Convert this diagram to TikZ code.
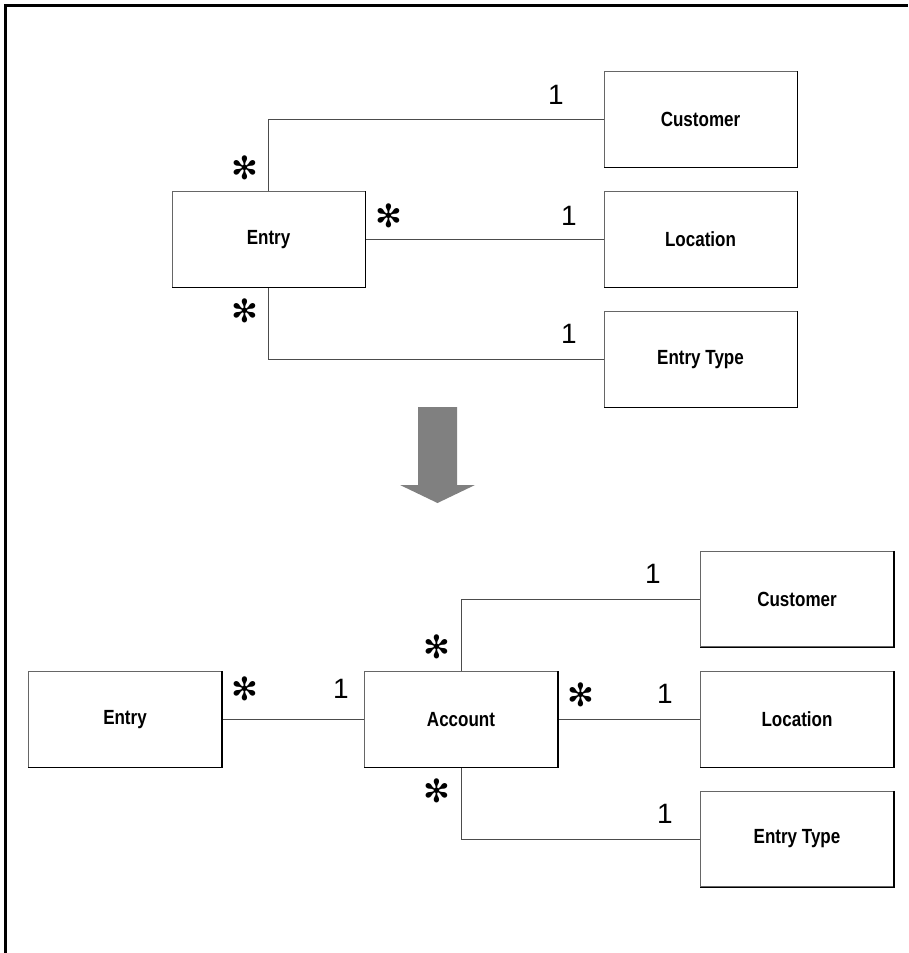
\documentclass[tikz,border=0pt]{standalone}
\usepackage{fontspec}
\setmainfont{Liberation Sans}
\newfontfamily\boxfont[FakeStretch=0.83]{Liberation Sans}
\newfontfamily\symfont{DejaVu Sans}
\begin{document}
\begin{tikzpicture}[x=1pt,y=-1pt,
  box/.style={draw=black!60, line width=0.9pt, minimum width=193pt, minimum height=95.5pt,
    inner sep=0pt, font=\boxfont\bfseries\fontsize{20.5}{20.5}\selectfont},
  conn/.style={draw=black!70, line width=0.9pt},
  mult/.style={inner sep=0pt, font=\fontsize{28}{28}\selectfont},
  star/.style={inner sep=0pt, font=\symfont\fontsize{32}{32}\selectfont},
  shadowedge/.style={draw=black, line width=1.4pt}]
\useasboundingbox (0,0) rectangle (908,953);
% frame
\draw[line width=3pt] (5,953) -- (5,5) -- (908,5);

% ---- top diagram
\node[box] (e1)  at (268.5,239.5) {Entry};
\node[box] (c1)  at (700.5,119.5) {Customer};
\node[box] (l1)  at (700.5,239.5) {Location};
\node[box] (t1)  at (700.5,359.5) {Entry Type};
\draw[conn] (e1.north) |- (c1.west);
\draw[conn] (e1.east) -- (l1.west);
\draw[conn] (e1.south) |- (t1.west);
\node[star] (s11) at (245,168) {✻};
\node[mult] (m11) at (556,95) {1};
\node[star] (s12) at (389,216) {✻};
\node[mult] (m12) at (569,216) {1};
\node[star] (s13) at (245,311) {✻};
\node[mult] (m13) at (569,334) {1};

% ---- big arrow
\fill[black!50] (418,407) -- (457,407) -- (457,485) -- (475,485) -- (437.5,503)
  -- (400,485) -- (418,485) -- cycle;

% ---- bottom diagram
\node[box] (e2)  at (125,719.5) {Entry};
\node[box] (a2)  at (461,719.5) {Account};
\node[box] (c2)  at (797,599) {Customer};
\node[box] (l2)  at (797,719.5) {Location};
\node[box] (t2)  at (797,839) {Entry Type};
\draw[conn] (e2.east) -- (a2.west);
\draw[conn] (a2.north) |- (c2.west);
\draw[conn] (a2.east) -- (l2.west);
\draw[conn] (a2.south) |- (t2.west);
\node[star] (s21) at (245,689) {✻};
\node[mult] (m21) at (341,689) {1};
\node[star] (s22) at (437,647) {✻};
\node[mult] (m22) at (653,574) {1};
\node[star] (s23) at (581,695) {✻};
\node[mult] (m23) at (665,694) {1};
\node[star] (s24) at (437,791) {✻};
\node[mult] (m24) at (665,814) {1};

% darker right/bottom edges of boxes
\foreach \n in {e1,c1,l1,t1,e2,a2,c2,l2,t2}
  \draw[shadowedge] (\n.north east) -- (\n.south east) -- (\n.south west);
\end{tikzpicture}
\end{document}
